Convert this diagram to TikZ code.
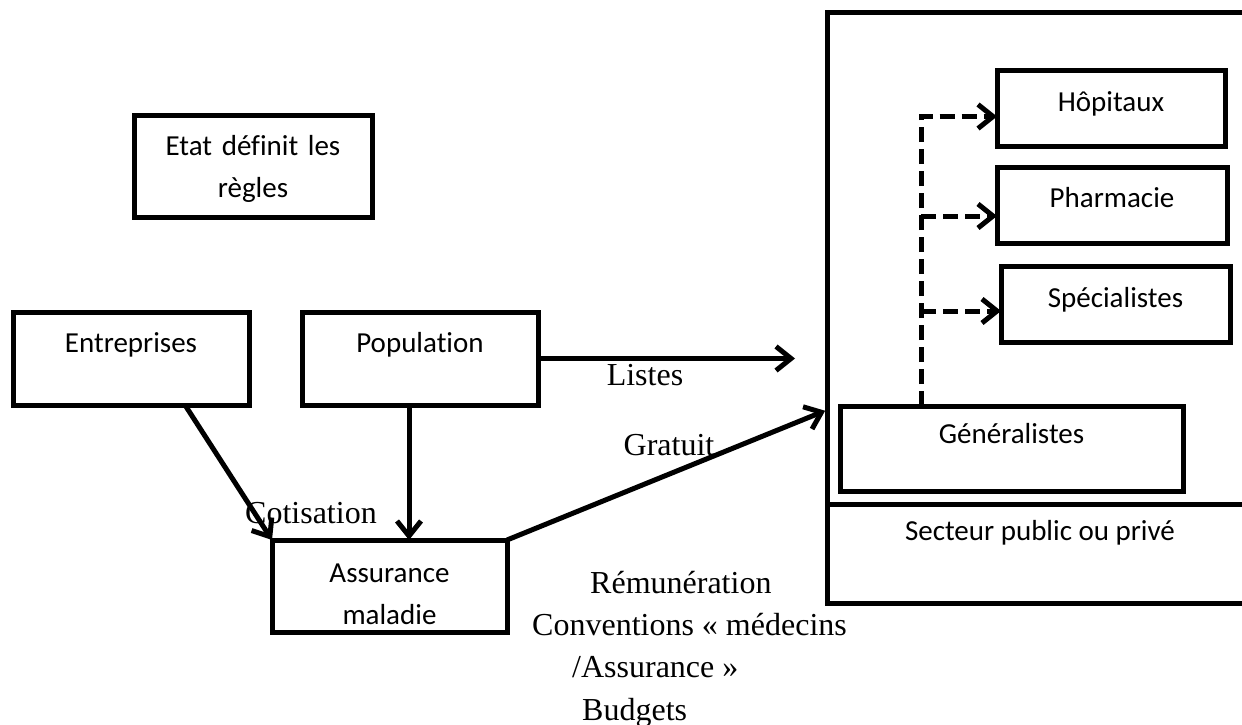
\documentclass[tikz,border=0pt]{standalone}
\usepackage{fontspec}
\setmainfont{Liberation Serif}
\newfontfamily\calib[Ligatures=NoCommon]{Carlito}
\usetikzlibrary{arrows.meta}

\begin{document}
\begin{tikzpicture}[x=1pt,y=-1pt,
  bx/.style={draw, line width=5pt, inner sep=0pt, outer sep=0pt, align=center,
    anchor=north west, font=\calib\fontsize{29}{42}\selectfont},
  arr/.style={line width=5pt, -{Straight Barb[length=15pt,width=24pt]}},
  dtip/.style={line width=5pt, dash pattern=on 15pt off 7pt,
    -{Straight Barb[length=15pt,width=24pt]}},
  lbl/.style={font=\fontsize{32}{42}\selectfont, inner sep=0pt}]

\useasboundingbox (0,0) rectangle (1242,725);

% care sector frame (open to the right) and its divider
\node[draw, line width=5pt, inner sep=0pt, outer sep=0pt, anchor=north west,
  minimum width=460pt, minimum height=590pt] (sect) at (827,13) {};
\draw[line width=5pt] ([yshift=-491pt]sect.north west) -- ([yshift=-491pt]sect.north east);
\node[anchor=base, inner sep=0pt, font=\calib\fontsize{29}{42}\selectfont] (secteur)
  at (1040,540) {Secteur public ou privé};

% boxes
\node[bx, text width=238pt, text height=40pt, text depth=62pt] (etat) at (134,115)
  {Etat définit les\\règles};
\node[bx, text width=236pt, text height=40pt, text depth=53pt] (ent) at (13,312) {Entreprises};
\node[bx, text width=236pt, text height=40pt, text depth=53pt] (pop) at (302,312) {Population};
\node[bx, text width=235pt, text height=42pt, text depth=50pt] (ass) at (272,540)
  {Assurance\\maladie};
\node[bx, text width=228pt, text height=40pt, text depth=35pt] (hop) at (997,71) {Hôpitaux};
\node[bx, text width=230pt, text height=40pt, text depth=36pt] (pha) at (997,167) {Pharmacie};
\node[bx, text width=229pt, text height=41pt, text depth=35pt] (spe) at (1001,266) {Spécialistes};
\node[bx, text width=343pt, text height=37pt, text depth=48pt] (gen) at (840,406) {Généralistes};

% solid connectors
\coordinate (lend) at (795,358.5);
\draw[arr] ([xshift=54pt]ent.south) -- (ass.north west);
\draw[arr] ([xshift=-11pt]pop.south) -- ([xshift=-11pt]pop.south |- ass.north);
\draw[arr] (pop.east) -- (lend);
\draw[arr, shorten >=2pt] (ass.north east) -- ([yshift=-397pt]sect.north west);

% dashed referrals from the general practitioners
\coordinate (trunk) at ([xshift=81pt]gen.north west);
\draw[dtip] (trunk) |- ([yshift=-8pt]hop.west);
\draw[dtip] ([yshift=-11pt]pha.west -| trunk) -- ([yshift=-11pt]pha.west);
\draw[dtip] ([yshift=-7pt]spe.west -| trunk) -- ([yshift=-7pt]spe.west);

% flow labels
\node[lbl, anchor=base] (listes) at (645,385) {Listes};
\node[lbl, anchor=base] (gratuit) at (669,455) {Gratuit};
\node[lbl, anchor=base west] (cotis) at (245,523) {Cotisation};
\node[lbl, anchor=base west] (rem1) at (590,593) {Rémunération};
\node[lbl, anchor=base west] (rem2) at (532,635) {Conventions « médecins};
\node[lbl, anchor=base west] (rem3) at (572,677) {/Assurance »};
\node[lbl, anchor=base west] (rem4) at (582,720) {Budgets};
\end{tikzpicture}
\end{document}
